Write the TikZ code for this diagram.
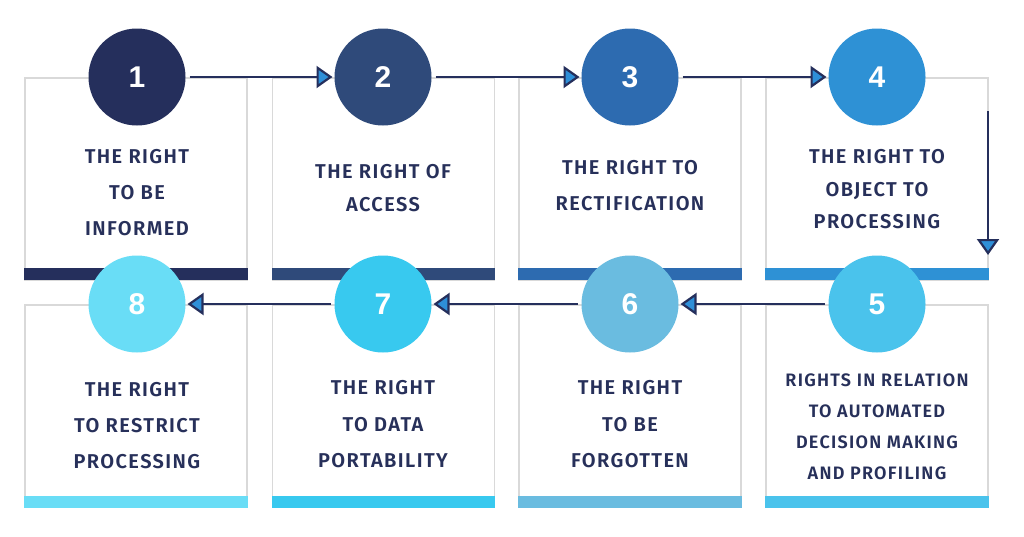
\documentclass[tikz,border=0pt]{standalone}
\usepackage{fontspec}
\newfontfamily\lbl{Fira Sans SemiBold}[LetterSpace=7]
\newfontfamily\numf{Liberation Sans Bold}
\usetikzlibrary{arrows.meta}
\definecolor{cA}{HTML}{252F5C}
\definecolor{cB}{HTML}{2F4A7A}
\definecolor{cC}{HTML}{2D6BB0}
\definecolor{cD}{HTML}{2E91D5}
\definecolor{cE}{HTML}{4AC3EC}
\definecolor{cF}{HTML}{6ABCE0}
\definecolor{cG}{HTML}{38C9EF}
\definecolor{cH}{HTML}{69DDF6}
\definecolor{txt}{HTML}{27305A}
\definecolor{boxgrey}{HTML}{D9D9D9}
\definecolor{arrowblue}{HTML}{2E8FD8}
\tikzset{
  box/.style={draw=boxgrey, line width=1.5pt, fill=white, minimum width=222pt, minimum height=202pt, inner sep=0pt, outer sep=0pt},
  bar/.style={fill=#1, draw=none, minimum width=223.5pt, minimum height=12pt, inner sep=0pt, outer sep=0pt},
  num/.style={circle, fill=#1, draw=none, minimum size=97pt, inner sep=0pt, outer sep=0pt, text=white, font=\numf\fontsize{30}{30}\selectfont},
  label/.style={text=txt, align=center, inner sep=0pt, font=\lbl\fontsize{20}{#1}\selectfont},
  flow/.style={draw=cA, line width=2.8pt, -{Triangle[length=16pt,width=22pt,fill=arrowblue,line width=2.2pt]}, shorten <=4pt, shorten >=2pt}
}
\begin{document}
\begin{tikzpicture}[x=1pt,y=-1pt]
\useasboundingbox (0,0) rectangle (1024,536);
% top row boxes
\node[box] (b1) at (136,179) {};
\node[box] (b2) at (383.5,179) {};
\node[box] (b3) at (630,179) {};
\node[box] (b4) at (877,179) {};
% bottom row boxes
\node[box] (b8) at (136,406) {};
\node[box] (b7) at (383.5,406) {};
\node[box] (b6) at (630,406) {};
\node[box] (b5) at (877,406) {};
% bars
\node[bar=cA] (r1) at (136,274) {};
\node[bar=cB] (r2) at (383.5,274) {};
\node[bar=cC] (r3) at (630,274) {};
\node[bar=cD] (r4) at (877,274) {};
\node[bar=cH] (r8) at (136,501.5) {};
\node[bar=cG] (r7) at (383.5,501.5) {};
\node[bar=cF] (r6) at (630,501.5) {};
\node[bar=cE] (r5) at (877,501.5) {};
% circles
\node[num=cA] (c1) at (137,77) {1};
\node[num=cB] (c2) at (383,77) {2};
\node[num=cC] (c3) at (630,77) {3};
\node[num=cD] (c4) at (877,77) {4};
\node[num=cE] (c5) at (877,304) {5};
\node[num=cF] (c6) at (630,304) {6};
\node[num=cG] (c7) at (383,304) {7};
\node[num=cH] (c8) at (137,304) {8};
% labels
\node[label=36] (t1) at (137,193) {THE RIGHT\\TO BE\\INFORMED};
\node[label=33] (t2) at (383,188.5) {THE RIGHT OF\\ACCESS};
\node[label=36] (t3) at (630,186) {THE RIGHT TO\\RECTIFICATION};
\node[label=32.5] (t4) at (877,189.5) {THE RIGHT TO\\OBJECT TO\\PROCESSING};
\node[label=31, font=\lbl\fontsize{18}{31}\selectfont] (t5) at (877,427) {RIGHTS IN RELATION\\TO AUTOMATED\\DECISION MAKING\\AND PROFILING};
\node[label=36.5] (t6) at (630,424.5) {THE RIGHT\\TO BE\\FORGOTTEN};
\node[label=36.5] (t7) at (383,424.5) {THE RIGHT\\TO DATA\\PORTABILITY};
\node[label=36] (t8) at (137,426) {THE RIGHT\\TO RESTRICT\\PROCESSING};
% connectors
\coordinate (d1) at (988,111);
\coordinate (d2) at (988,255);
\draw[flow] (c1.east) -- (c2.west);
\draw[flow] (c2.east) -- (c3.west);
\draw[flow] (c3.east) -- (c4.west);
\draw[flow, shorten <=0pt, shorten >=0pt] (d1) -- (d2);
\draw[flow] (c5.west) -- (c6.east);
\draw[flow] (c6.west) -- (c7.east);
\draw[flow] (c7.west) -- (c8.east);
\end{tikzpicture}
\end{document}
